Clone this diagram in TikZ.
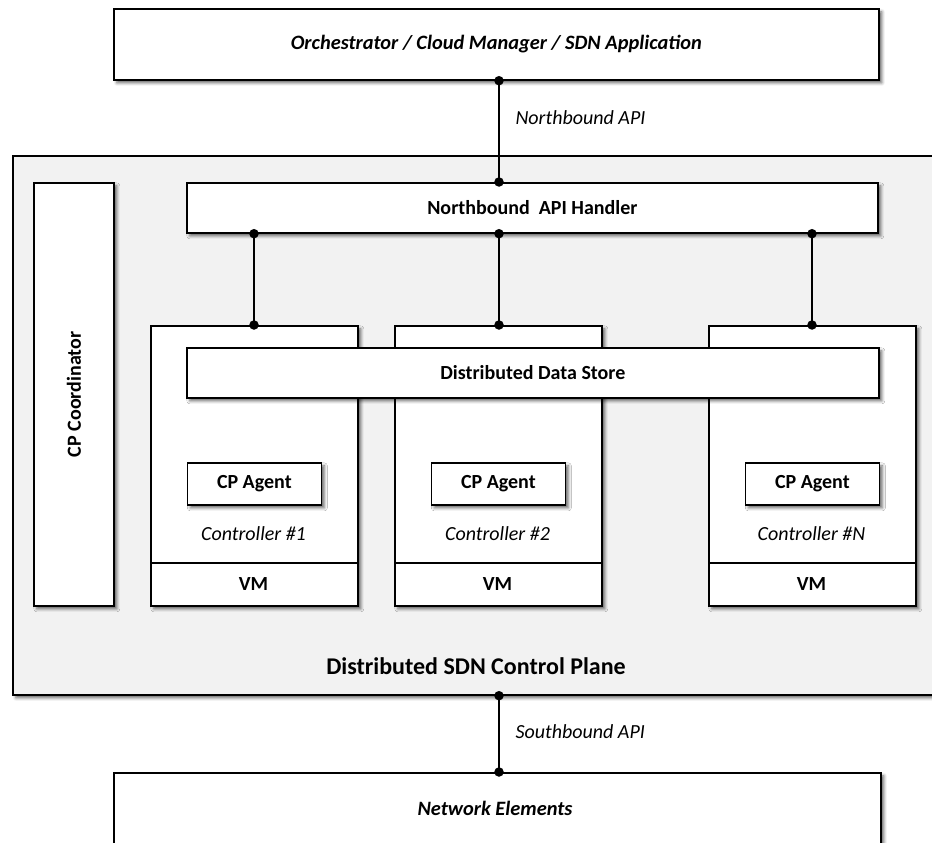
\documentclass[tikz,border=0pt]{standalone}
\usepackage{fontspec}
\setmainfont{Carlito}
\usetikzlibrary{shadows.blur}
\definecolor{planegray}{HTML}{F2F2F2}
\tikzset{
  shade box/.style={blur shadow={shadow xshift=3pt, shadow yshift=-3pt, shadow blur radius=3pt, shadow opacity=60}},
  box/.style={draw=black, line width=1.7pt, fill=white, shade box, inner sep=0pt, anchor=north west},
  boldlbl/.style={font=\fontsize{20}{24}\selectfont\bfseries},
  itlbl/.style={font=\fontsize{20}{24}\selectfont\itshape},
  bilbl/.style={font=\fontsize{20.4}{24}\selectfont\bfseries\itshape},
  link/.style={line width=1.7pt},
  joint/.style={circle, fill=black, inner sep=0pt, minimum size=9.5pt}
}
\begin{document}
\begin{tikzpicture}[x=1pt, y=-1pt]
\useasboundingbox (0,0) rectangle (932,843);

% application layer on top
\node[box, minimum width=765pt, minimum height=71pt] (app) at (113,8) {};
\node[bilbl] (applbl) at (app.center) {Orchestrator / Cloud Manager / SDN Application};

% control plane frame
\node[box, fill=planegray, minimum width=940pt, minimum height=539pt] (plane) at (12,155) {};
\node[font=\fontsize{24}{28}\selectfont\bfseries, anchor=center] (planelbl) at (476,666) {Distributed SDN Control Plane};

% coordinator
\node[box, minimum width=80pt, minimum height=423pt] (coord) at (33,182) {};
\node[boldlbl, rotate=90] (coordlbl) at (coord.center) {CP Coordinator};

% northbound handler
\node[box, minimum width=691pt, minimum height=50pt] (nbh) at (186,182) {};
\node[boldlbl] (nbhlbl) at (nbh.center) {Northbound\ \ API Handler};

% controllers
\foreach \name/\x/\num in {c1/150/1, c2/394/2, cn/708/N}{
  \node[box, minimum width=207pt, minimum height=280pt] (\name) at (\x,325) {};
  \draw[line width=1.7pt] (\x,563) -- ++(207,0);
  \node[boldlbl] (\name vm) at (\x+103.5,584) {VM};
  \node[itlbl] (\name lbl) at (\x+103.5,534) {Controller \#\num};
  \node[box, minimum width=134pt, minimum height=42pt] (\name ag) at (\x+36.5,462) {};
  \node[boldlbl] (\name agl) at (\name ag.center) {CP Agent};
}

% shared data store across controllers
\node[box, minimum width=692pt, minimum height=50pt] (dds) at (186,347) {};
\node[boldlbl] (ddslbl) at (dds.center) {Distributed Data Store};

% network elements
\node[box, minimum width=767pt, minimum height=90pt] (ne) at (113,772) {};
\node[bilbl] (nelbl) at (495,808) {Network Elements};

% connectors
\coordinate (nbx) at (499,0);
\draw[link] (app.south -| nbx) -- (nbh.north -| nbx);
\node[joint] at (app.south -| nbx) {};
\node[joint] at (nbh.north -| nbx) {};
\node[itlbl, anchor=west] (nblbl) at (512,118) {Northbound API};

\foreach \name/\x in {c1/254, c2/499, cn/812}{
  \coordinate (\name x) at (\x,0);
  \draw[link] (nbh.south -| \name x) -- (\name.north -| \name x);
  \node[joint] at (nbh.south -| \name x) {};
  \node[joint] at (\name.north -| \name x) {};
}

\draw[link] (plane.south -| nbx) -- (ne.north -| nbx);
\node[joint] at (plane.south -| nbx) {};
\node[joint] at (ne.north -| nbx) {};
\node[itlbl, anchor=west] (sblbl) at (512,732) {Southbound API};
\end{tikzpicture}
\end{document}
